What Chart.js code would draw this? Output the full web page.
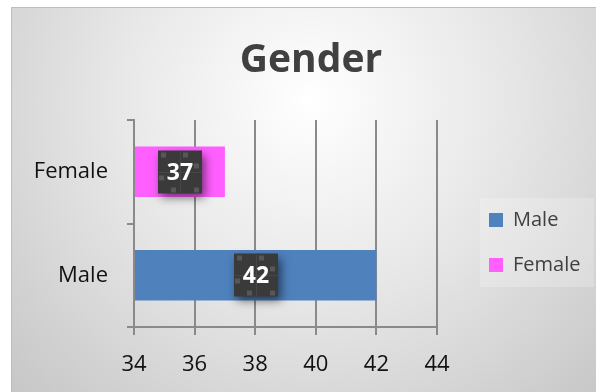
<!DOCTYPE html>
<html><head><meta charset="utf-8">
<script src="https://cdn.jsdelivr.net/npm/chart.js@4/dist/chart.umd.min.js"></script>
<style>html,body{margin:0;padding:0;background:#fff;overflow:hidden}#wrap{width:596px;height:392px;position:relative}</style>
</head><body><div id="wrap"><canvas id="c" width="596" height="392"></canvas></div>
<script>
const titleText = 'Gender';
const categories = ['Female', 'Male'];
const seriesNames = ['Male', 'Female'];
const maleValues = [null, 42];
const femaleValues = [37, null];
const xTicks = [34, 36, 38, 40, 42, 44];
const seriesColors = ['#4f81bd', '#ff5fff'];

const FONT = 'Open Sans';
const target = { top: 120, right: 437, bottom: 327 };

const bgPlugin = {
  id: 'bg',
  beforeDraw(chart) {
    const ctx = chart.ctx;
    ctx.save();
    ctx.fillStyle = '#ffffff';
    ctx.fillRect(0, 0, chart.width, chart.height);
    const g = ctx.createRadialGradient(310, 100, 0, 310, 100, 420);
    g.addColorStop(0, '#ffffff');
    g.addColorStop(0.45, '#e8e8e8');
    g.addColorStop(1, '#c6c6c6');
    ctx.fillStyle = g;
    ctx.fillRect(11, 7, chart.width - 11, chart.height - 7);
    ctx.strokeStyle = '#bdbdbd';
    ctx.lineWidth = 1;
    ctx.beginPath();
    ctx.moveTo(11.5, chart.height);
    ctx.lineTo(11.5, 7.5);
    ctx.lineTo(chart.width, 7.5);
    ctx.stroke();
    ctx.fillStyle = 'rgba(255,255,255,0.22)';
    ctx.fillRect(480, 198, 114, 89);
    ctx.restore();
  }
};

const placeBlocks = {
  id: 'placeBlocks',
  afterLayout(chart) {
    const lg = chart.legend;
    if (lg) {
      const w = lg.width, h = lg.height;
      lg.left = 464; lg.right = lg.left + w;
      lg.top = 242.5 - h / 2; lg.bottom = lg.top + h;
    }
    const tb = chart.titleBlock;
    if (tb) {
      tb.left = 26; tb.right = 596; tb.width = 570;
    }
  }
};

const labelPlugin = {
  id: 'boxLabels',
  afterDatasetsDraw(chart) {
    const ctx = chart.ctx;
    chart.data.datasets.forEach((ds, i) => {
      const meta = chart.getDatasetMeta(i);
      meta.data.forEach((el, j) => {
        const v = ds.data[j];
        if (v === null || v === undefined) return;
        const base = Math.max(el.base, chart.chartArea.left);
        const cx = Math.round((el.x + base) / 2);
        const cy = Math.round(el.y);
        const w = 44, h = 43;
        const x0 = cx - w / 2, y0 = cy - h / 2;
        ctx.save();
        ctx.shadowColor = 'rgba(0,0,0,0.55)';
        ctx.shadowBlur = 9;
        ctx.shadowOffsetX = 3;
        ctx.shadowOffsetY = 4;
        ctx.fillStyle = '#3a3a3a';
        ctx.fillRect(x0, y0, w, h);
        ctx.restore();
        ctx.save();
        ctx.strokeStyle = '#474747';
        ctx.lineWidth = 1;
        ctx.beginPath();
        ctx.moveTo(x0 + w / 2 + 0.5, y0); ctx.lineTo(x0 + w / 2 + 0.5, y0 + h);
        ctx.moveTo(x0, y0 + h / 2 + 0.5); ctx.lineTo(x0 + w, y0 + h / 2 + 0.5);
        ctx.stroke();
        ctx.fillStyle = '#575757';
        [[3, 2], [25, 2], [36, 13], [1, 25], [13, 37], [36, 37]].forEach(p => {
          ctx.fillRect(x0 + p[0], y0 + p[1], 5, 5);
        });
        ctx.fillStyle = '#ffffff';
        ctx.font = 'bold 23px "' + FONT + '"';
        ctx.textAlign = 'center';
        ctx.textBaseline = 'middle';
        ctx.fillText(String(v), cx, cy + 1);
        ctx.restore();
      });
    });
  }
};

const gridColor = '#8a8a8a';

const chart = new Chart(document.getElementById('c'), {
  type: 'bar',
  data: {
    labels: categories,
    datasets: [
      { label: seriesNames[0], data: maleValues, backgroundColor: seriesColors[0], base: xTicks[0],
        categoryPercentage: 1.0, barPercentage: 0.49 },
      { label: seriesNames[1], data: femaleValues, backgroundColor: seriesColors[1], base: xTicks[0],
        categoryPercentage: 1.0, barPercentage: 0.49 }
    ]
  },
  options: {
    indexAxis: 'y',
    responsive: false,
    animation: false,
    events: [],
    layout: { padding: { left: 0, top: 0, right: 30, bottom: 17.8 } },
    plugins: {
      title: {
        display: true, text: titleText, color: '#404040',
        font: { family: FONT, size: 39, weight: 'bold', lineHeight: 1.2 },
        padding: { top: 37, bottom: 39 }
      },
      legend: {
        position: 'right',
        labels: {
          boxWidth: 14, boxHeight: 14, padding: 25, color: '#404040',
          font: { family: FONT, size: 20 }
        }
      },
      tooltip: { enabled: false }
    },
    scales: {
      x: {
        type: 'linear', min: xTicks[0], max: xTicks[xTicks.length - 1],
        afterBuildTicks: s => { s.ticks = xTicks.map(v => ({ value: v })); },
        ticks: { font: { family: FONT, size: 22 }, color: '#111', padding: 16.5, maxRotation: 0 },
        grid: { color: gridColor, tickLength: 8, drawTicks: true, lineWidth: 2 },
        border: { color: gridColor, width: 2 }
      },
      y: {
        stacked: true,
        afterFit: s => { s.width = 134; },
        ticks: { font: { family: FONT, size: 22 }, color: '#111', padding: 19 },
        grid: { drawOnChartArea: false, tickLength: 7, color: gridColor, offset: true, lineWidth: 2 },
        border: { color: gridColor, width: 2 }
      }
    }
  },
  plugins: [bgPlugin, placeBlocks, labelPlugin]
});

for (let k = 0; k < 3; k++) {
  const ca = chart.chartArea;
  const dr = ca.right - target.right;
  const db = ca.bottom - target.bottom;
  const dt = target.top - ca.top;
  if (Math.abs(dr) < 0.5 && Math.abs(db) < 0.5 && Math.abs(dt) < 0.5) break;
  chart.options.layout.padding.right += dr;
  chart.options.layout.padding.bottom += db;
  chart.options.plugins.title.padding.bottom += dt;
  chart.update('none');
}
</script></body></html>
